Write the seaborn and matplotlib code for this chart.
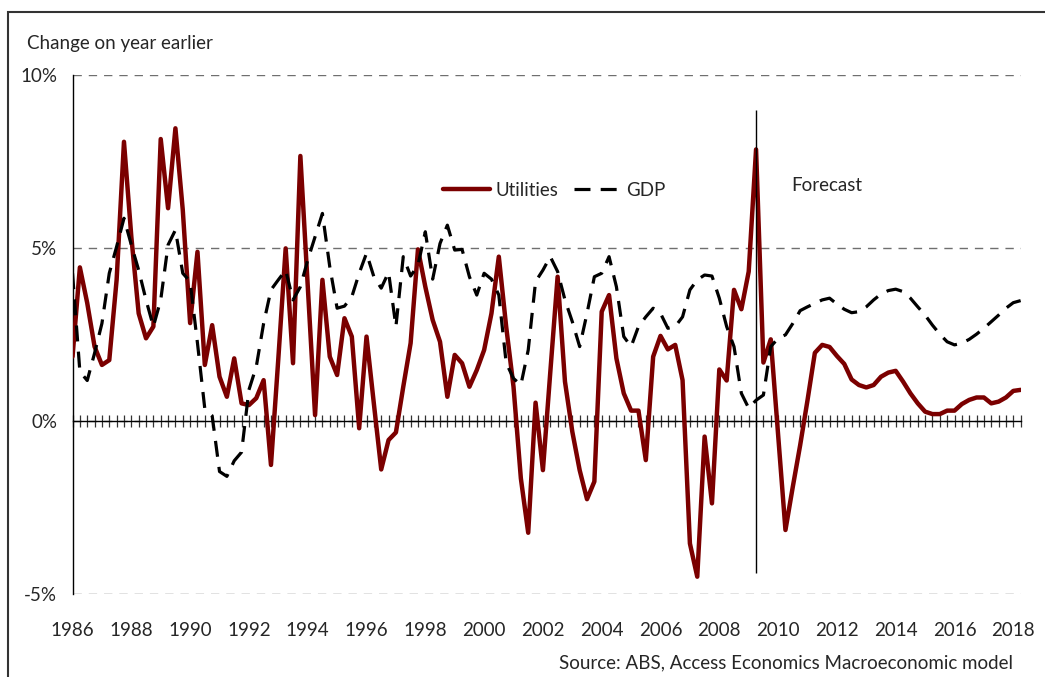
import numpy as np
import pandas as pd
import seaborn as sns
import matplotlib.pyplot as plt
from matplotlib.patches import Rectangle
from matplotlib.ticker import MultipleLocator

# Quarterly series, 1986Q1 to 2018Q2 (% change on year earlier)
start_year = 1986
utilities = [
    1.86, 4.44, 3.41, 2.15, 1.62, 1.76, 4.08, 8.07, 5.33, 3.11,
    2.39, 2.73, 8.15, 6.15, 8.46, 6.10, 2.83, 4.89, 1.62, 2.77,
    1.28, 0.70, 1.81, 0.51, 0.46, 0.66, 1.18, -1.27, 1.80, 4.99,
    1.67, 7.66, 3.90, 0.17, 4.08, 1.86, 1.33, 2.97, 2.44, -0.21,
    2.44, 0.50, -1.40, -0.55, -0.33, 0.99, 2.25, 4.96, 3.88, 2.92,
    2.29, 0.70, 1.91, 1.67, 0.99, 1.47, 2.05, 3.11, 4.75, 2.73,
    0.99, -1.66, -3.23, 0.53, -1.42, 1.40, 4.17, 1.14, -0.31, -1.42,
    -2.26, -1.75, 3.16, 3.64, 1.81, 0.80, 0.30, 0.30, -1.13, 1.86,
    2.46, 2.07, 2.20, 1.18, -3.54, -4.50, -0.45, -2.38, 1.49, 1.17,
    3.79, 3.23, 4.32, 7.85, 1.69, 2.36, -0.40, -3.15, -1.90, -0.70,
    0.60, 1.97, 2.20, 2.14, 1.88, 1.65, 1.20, 1.04, 0.97, 1.04,
    1.28, 1.40, 1.45, 1.14, 0.80, 0.51, 0.27, 0.20, 0.20, 0.30,
    0.30, 0.49, 0.61, 0.68, 0.68, 0.51, 0.56, 0.68, 0.87, 0.90,
]
gdp = [
    4.27, 1.43, 1.17, 1.96, 2.82, 4.27, 5.04, 5.86, 5.09, 4.36,
    3.50, 2.73, 3.50, 5.09, 5.52, 4.27, 4.03, 2.25, 0.35, 0.15,
    -1.46, -1.60, -1.15, -0.90, 0.90, 1.57, 2.82, 3.79, 4.08, 4.36,
    3.50, 3.88, 4.65, 5.33, 6.00, 4.46, 3.26, 3.32, 3.59, 4.27,
    4.85, 4.17, 3.84, 4.30, 2.73, 4.75, 4.19, 4.50, 5.47, 4.10,
    5.13, 5.66, 4.94, 4.96, 4.17, 3.64, 4.27, 4.10, 3.64, 1.68,
    1.23, 1.04, 2.05, 4.03, 4.36, 4.75, 4.32, 3.50, 2.87, 2.15,
    3.11, 4.17, 4.27, 4.75, 3.88, 2.44, 2.15, 2.73, 3.01, 3.26,
    3.11, 2.68, 2.73, 3.01, 3.79, 4.08, 4.22, 4.19, 3.55, 2.73,
    2.15, 0.80, 0.37, 0.60, 0.75, 2.15, 2.39, 2.49, 2.82, 3.19,
    3.30, 3.40, 3.50, 3.55, 3.38, 3.23, 3.13, 3.16, 3.30, 3.50,
    3.67, 3.77, 3.81, 3.74, 3.55, 3.30, 3.06, 2.77, 2.51, 2.29,
    2.20, 2.25, 2.36, 2.51, 2.68, 2.87, 3.06, 3.26, 3.42, 3.48,
]
year_ticks = list(range(1986, 2019, 2))
y_ticks = [-5, 0, 5, 10]
y_tick_labels = ['-5%', '0%', '5%', '10%']
forecast_start = 2009.25

t = start_year + np.arange(len(utilities)) / 4
df = pd.DataFrame({'t': t, 'Utilities': utilities, 'GDP': gdp})

sns.set_style('white')
plt.rcParams['font.family'] = ['Lato', 'DejaVu Sans']

fig = plt.figure(figsize=(10.45, 6.77), dpi=100)
ax = fig.add_axes([0.0694, 0.1226, 0.9073, 0.7666])

sns.lineplot(data=df, x='t', y='Utilities', ax=ax, color='#7b0000', lw=3.2,
             label='Utilities', zorder=3)
sns.lineplot(data=df, x='t', y='GDP', ax=ax, color='black', lw=2.3,
             linestyle=(0, (5, 3.2)), label='GDP', zorder=4)

ax.set_xlim(1986, 2018.25)
ax.set_ylim(-5, 10)
ax.set_xlabel('')
ax.set_ylabel('')

# y axis
ax.set_yticks(y_ticks)
ax.set_yticklabels(y_tick_labels, fontsize=13.5)
ax.tick_params(axis='y', direction='inout', length=8, width=1, pad=7, color='black')
ax.yaxis.grid(True, linestyle=(0, (6, 5)), color='#6f6f6f', lw=1)
ax.xaxis.grid(False)

# x axis line at zero with quarterly ticks
ax.spines['bottom'].set_position(('data', 0))
ax.spines['top'].set_visible(False)
ax.spines['right'].set_visible(False)
ax.spines['left'].set_color('black')
ax.spines['left'].set_linewidth(1)
ax.spines['bottom'].set_color('black')
ax.spines['bottom'].set_linewidth(1)
ax.xaxis.set_major_locator(MultipleLocator(0.25))
ax.tick_params(axis='x', direction='inout', length=8, width=0.9, color='#333333',
               labelbottom=False, bottom=True)

# year labels under the plot
secax = ax.secondary_xaxis(0)
secax.set_xticks(year_ticks)
secax.set_xticklabels([str(y) for y in year_ticks], fontsize=13.5)
secax.tick_params(length=0, pad=20)
secax.spines['bottom'].set_visible(False)

# forecast marker
ax.vlines(forecast_start, -4.4, 9.0, color='black', lw=1, zorder=5)
ax.text(2010.45, 6.8, 'Forecast', fontsize=13.5, va='center', ha='left')

ax.legend(loc='center left', bbox_to_anchor=(0.391, 0.778), ncol=2, frameon=False,
          fontsize=13.5, handlelength=2.5, handletextpad=0.3, columnspacing=0.8,
          borderpad=0, borderaxespad=0)

fig.text(27 / 1045, 1 - 44 / 677, 'Change on year earlier', fontsize=13.5,
         ha='left', va='center')
fig.text(1013 / 1045, 1 - 663 / 677, 'Source: ABS, Access Economics Macroeconomic model',
         fontsize=13.5, ha='right', va='center')

# frame of the original exhibit
fig.patches.append(Rectangle((8 / 1045, -0.05), 1.05, 1 - 12 / 677 + 0.05, fill=False,
                             transform=fig.transFigure, lw=1.5, ec='#333333'))

fig.savefig('out.png', dpi=100)
plt.close(fig)
print('Finished')
